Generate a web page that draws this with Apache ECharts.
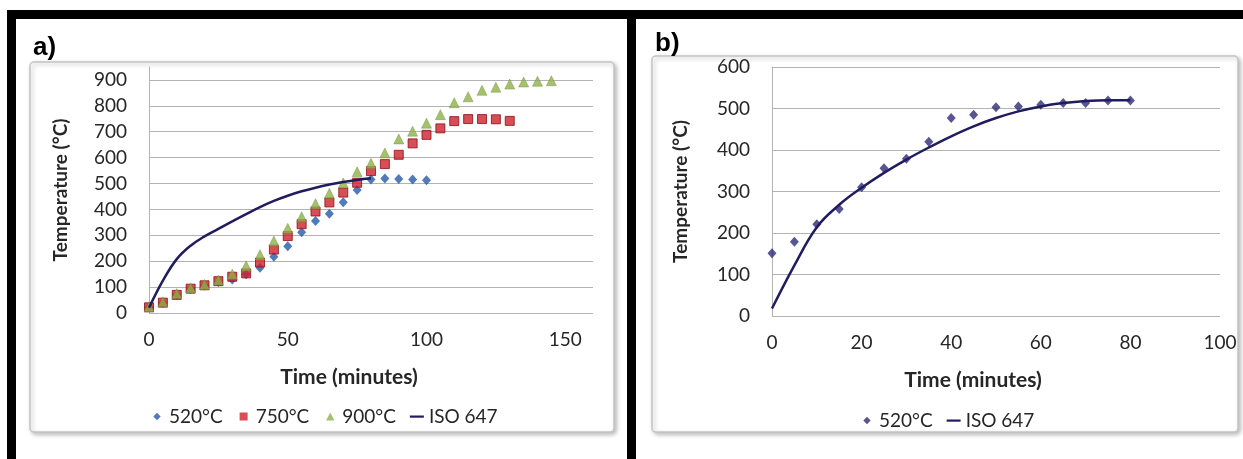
<!DOCTYPE html>
<html>
<head>
<meta charset="utf-8">
<script src="https://cdn.jsdelivr.net/npm/echarts@6/dist/echarts.min.js"></script>
<style>
html,body{margin:0;padding:0;background:#fff;}
#chart{width:1243px;height:459px;}
</style>
</head>
<body>
<div id="chart"></div>
<script>
// ---- Panel a data ----
const timeA520 = [0,5,10,15,20,25,30,35,40,45,50,55,60,65,70,75,80,85,90,95,100];
const tempA520 = [22,40,70,93,106,120,129,150,175,217,258,312,355,383,428,475,516,519,517,516,513];
const timeA750 = [0,5,10,15,20,25,30,35,40,45,50,55,60,65,70,75,80,85,90,95,100,105,110,115,120,125,130];
const tempA750 = [22,40,70,94,107,123,140,153,195,245,297,343,392,427,465,503,548,575,611,655,688,713,741,749,749,748,742];
const timeA900 = [0,5,10,15,20,25,30,35,40,45,50,55,60,65,70,75,80,85,90,95,100,105,110,115,120,125,130,135,140,145];
const tempA900 = [24,43,75,97,110,127,150,182,225,278,327,372,422,462,502,545,578,618,672,702,733,766,812,835,860,872,884,892,895,897];
const timeAIso = [0,5,10,15,20,25,30,35,40,45,50,55,60,65,70,75,80];
const tempAIso = [20,125,208,260,296,325,354,382,409,433,453,470,484,496,506,514,520];

// ---- Panel b data ----
const timeB520 = [0,5,10,15,20,25,30,35,40,45,50,55,60,65,70,75,80];
const tempB520 = [151,179,221,258,310,356,379,420,477,485,503,505,509,513,513,519,519];
const timeBIso = [0,5,10,15,20,25,30,35,40,45,50,55,60,65,70,75,80];
const tempBIso = [18,122,214,268,309,345,377,406,433,457,477,493,505,513,518,520,520];

// ---- labels ----
const panelLabels = ['a)', 'b)'];
const seriesNamesA = ['520°C', '750°C', '900°C', 'ISO 647'];
const seriesNamesB = ['520°C', 'ISO 647'];
const xTitle = 'Time (minutes)';
const yTitle = 'Temperature (°C)';

const pairs = (xs, ys) => xs.map((x, i) => [x, ys[i]]);

const FONT = 'Lato';
const TXT = '#262626';
const GRID = '#b3b3b3';

// legend icons drawn in a 14x8 box (the leading moves fix the box)
const ICON_DIAMOND = 'path://M0,0M14,8M7,0.3L10.7,4L7,7.7L3.3,4Z';
const ICON_SQUARE = 'path://M0,0M14,8M3,0H11V8H3Z';
const ICON_TRI = 'path://M0,0M14,8M7,0L11.2,8H2.8Z';
const ICON_LINE = 'path://M0,0M14,8M0,3H14V5.2H0Z';

const C520 = '#2459a8';
const C520b = '#2e2b78';
const C750 = '#d0202c';
const C900 = '#8fb24a';
const CISO = '#201c5e';

function xAxisCfg(gridIndex, max, interval, shift) {
  return {
    type: 'value', gridIndex, min: 0, max, interval,
    name: xTitle, nameLocation: 'middle', nameGap: 54,
    nameTextStyle: {fontFamily: FONT, fontWeight: 'bold', fontSize: 21, color: TXT, padding: [0, shift, 0, 0]},
    axisLine: {show: false}, axisTick: {show: false},
    splitLine: {show: false},
    axisLabel: {fontFamily: FONT, fontSize: 19, color: TXT, margin: 17, showMaxLabel: max % interval === 0}
  };
}
function yAxisCfg(gridIndex, max, interval, gap) {
  return {
    type: 'value', gridIndex, min: 0, max, interval,
    name: yTitle, nameLocation: 'middle', nameGap: gap, nameRotate: 90,
    nameTextStyle: {fontFamily: FONT, fontWeight: 'bold', fontSize: 19, color: TXT},
    axisLine: {show: true, lineStyle: {color: GRID, width: 1}},
    axisTick: {show: false},
    splitLine: {show: true, showMaxLine: max % interval === 0, lineStyle: {color: GRID, width: 1}},
    axisLabel: {fontFamily: FONT, fontSize: 19, color: TXT, margin: 22, showMaxLabel: max % interval === 0}
  };
}

const legendCommon = {
  itemWidth: 14, itemHeight: 8, itemGap: 14,
  textStyle: {fontFamily: FONT, fontSize: 19, color: TXT}, padding: 0,
  itemStyle: {borderWidth: 0}
};

const option = {
  animation: false,
  backgroundColor: '#ffffff',
  graphic: [
    {type: 'rect', z: -10, shape: {x: 30, y: 62, width: 584, height: 370, r: 4},
     style: {fill: '#fff', stroke: '#c4c4c4', lineWidth: 1.5, shadowBlur: 4, shadowOffsetX: 2, shadowOffsetY: 2, shadowColor: 'rgba(0,0,0,0.25)'}},
    {type: 'rect', z: -10, shape: {x: 652, y: 56, width: 586, height: 376, r: 4},
     style: {fill: '#fff', stroke: '#c4c4c4', lineWidth: 1.5, shadowBlur: 4, shadowOffsetX: 2, shadowOffsetY: 2, shadowColor: 'rgba(0,0,0,0.25)'}},
    {type: 'rect', z: 100, shape: {x: 7, y: 10, width: 1236, height: 9}, style: {fill: '#000'}},
    {type: 'rect', z: 100, shape: {x: 7, y: 10, width: 9, height: 449}, style: {fill: '#000'}},
    {type: 'rect', z: 100, shape: {x: 627, y: 10, width: 9, height: 449}, style: {fill: '#000'}}
  ],
  title: [
    {text: panelLabels[0], left: 33, top: 35, textStyle: {fontFamily: 'Liberation Sans', fontWeight: 'bold', fontSize: 26, color: '#000'}, padding: 0},
    {text: panelLabels[1], left: 655, top: 31, textStyle: {fontFamily: 'Liberation Sans', fontWeight: 'bold', fontSize: 26, color: '#000'}, padding: 0}
  ],
  legend: [
    Object.assign({}, legendCommon, {
      left: 150, top: 407,
      data: [
        {name: seriesNamesA[0], icon: ICON_DIAMOND},
        {name: seriesNamesA[1], icon: ICON_SQUARE},
        {name: seriesNamesA[2], icon: ICON_TRI},
        {name: seriesNamesA[3], icon: ICON_LINE}
      ]
    }),
    Object.assign({}, legendCommon, {
      left: 860, top: 411,
      data: [
        {name: seriesNamesB[0] + ' ', icon: ICON_DIAMOND},
        {name: seriesNamesB[1] + ' ', icon: ICON_LINE}
      ],
      formatter: n => n.trim()
    })
  ],
  grid: [
    {left: 149, right: 650, top: 67, bottom: 146},
    {left: 772, right: 23, top: 67, bottom: 143}
  ],
  xAxis: [xAxisCfg(0, 160, 50, 44), xAxisCfg(1, 100, 20, 46)],
  yAxis: [yAxisCfg(0, 950, 100, 79), yAxisCfg(1, 600, 100, 82)],
  series: [
    {name: seriesNamesA[0], type: 'scatter', xAxisIndex: 0, yAxisIndex: 0, symbol: 'diamond', symbolSize: [9, 10],
     itemStyle: {color: C520}, data: pairs(timeA520, tempA520)},
    {name: seriesNamesA[1], type: 'scatter', xAxisIndex: 0, yAxisIndex: 0, symbol: 'rect', symbolSize: 9,
     itemStyle: {color: C750, borderColor: '#8a1018', borderWidth: 1}, data: pairs(timeA750, tempA750)},
    {name: seriesNamesA[2], type: 'scatter', xAxisIndex: 0, yAxisIndex: 0, symbol: 'triangle', symbolSize: [10, 10],
     itemStyle: {color: C900, borderColor: '#6d8a33', borderWidth: 0.5}, data: pairs(timeA900, tempA900)},
    {name: seriesNamesA[3], type: 'line', xAxisIndex: 0, yAxisIndex: 0, smooth: 0.4, showSymbol: false, symbol: 'none',
     lineStyle: {color: CISO, width: 2.5}, itemStyle: {color: CISO}, data: pairs(timeAIso, tempAIso)},
    {name: seriesNamesB[0] + ' ', type: 'scatter', xAxisIndex: 1, yAxisIndex: 1, symbol: 'diamond', symbolSize: [9, 10],
     itemStyle: {color: C520b}, data: pairs(timeB520, tempB520)},
    {name: seriesNamesB[1] + ' ', type: 'line', xAxisIndex: 1, yAxisIndex: 1, smooth: 0.4, showSymbol: false, symbol: 'none',
     lineStyle: {color: CISO, width: 2.5}, itemStyle: {color: CISO}, data: pairs(timeBIso, tempBIso)}
  ]
};

const chart = echarts.init(document.getElementById('chart'), null, {renderer: 'canvas'});
chart.setOption(option);
</script>
</body>
</html>
